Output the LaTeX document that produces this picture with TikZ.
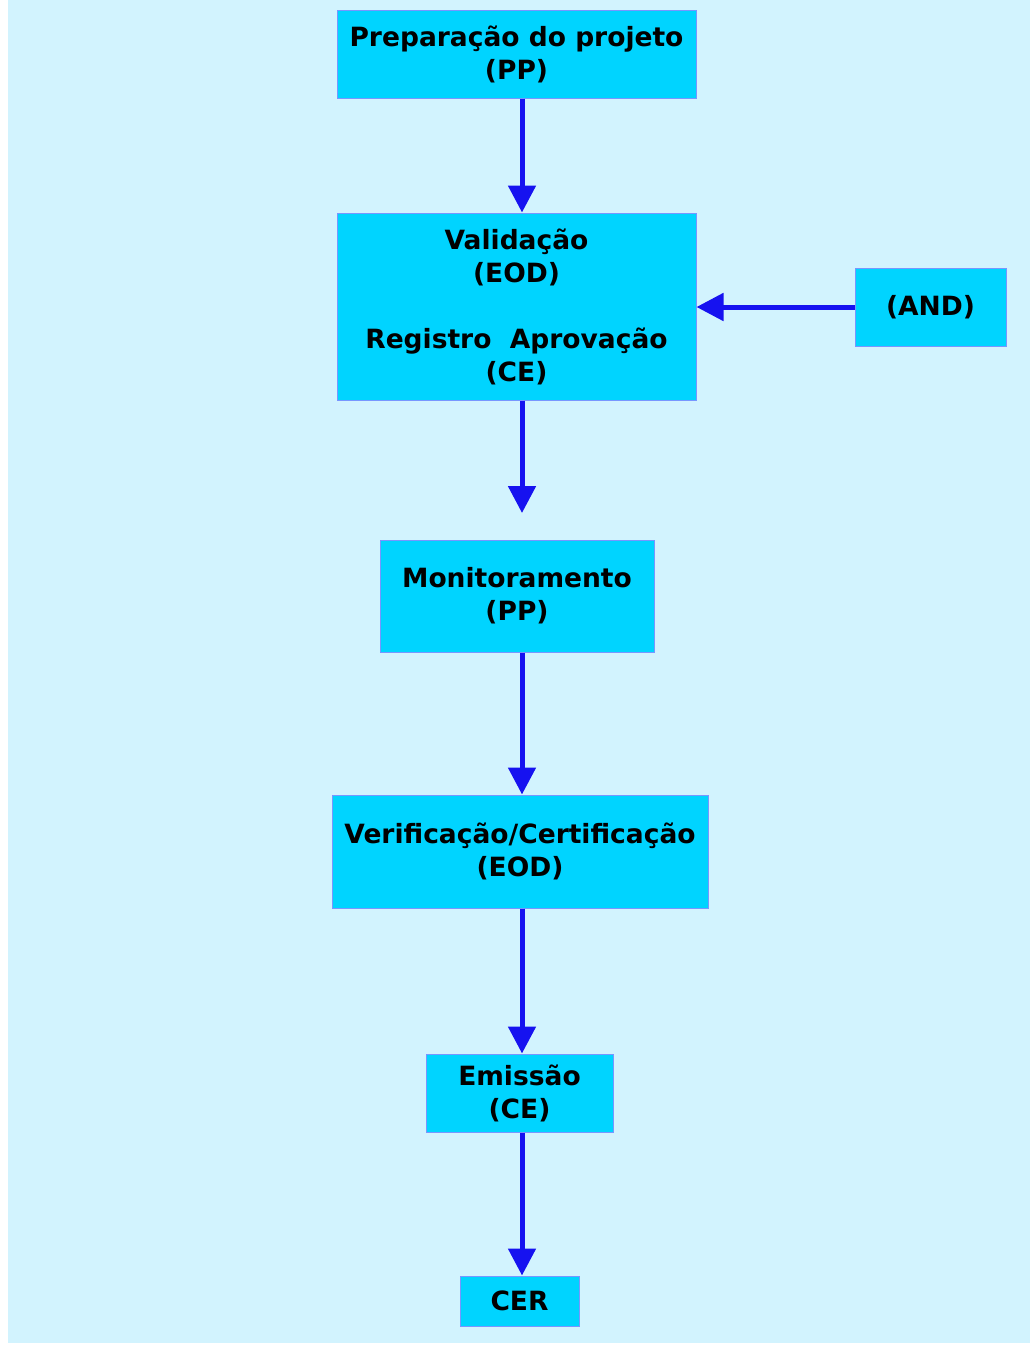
\documentclass[tikz,border=0pt]{standalone}
\usepackage{fontspec}
\setmainfont{DejaVu Sans}
\usetikzlibrary{arrows.meta}
\definecolor{paleblue}{RGB}{210,243,254}
\definecolor{boxcyan}{RGB}{0,212,255}
\definecolor{boxedge}{RGB}{120,150,255}
\definecolor{flowblue}{RGB}{22,18,240}

\begin{document}
\begin{tikzpicture}[x=1pt,y=-1pt]
  \tikzset{stage/.style={draw=boxedge, fill=boxcyan, line width=1pt, inner sep=0pt, align=center, font=\fontsize{26.5}{33}\selectfont\bfseries},
    flow/.style={draw=flowblue, line width=5pt, -{Triangle[length=27pt,width=27pt]}}}
  \useasboundingbox (0,0) rectangle (1030,1345);
  \fill[paleblue] (8,0) rectangle (1030,1343);

  \node[stage, minimum width=359pt, minimum height=88pt] at (516.5,54) (b_1) {Preparação do projeto\\(PP)};
  \node[stage, minimum width=359pt, minimum height=187pt] at (516.5,306.5) (b_2) {Validação\\(EOD)\\[33pt]Registro\ \ Aprovação\\(CE)};
  \node[stage, minimum width=151pt, minimum height=78pt] at (930.5,307) (b_7) {(AND)};
  \node[stage, minimum width=274pt, minimum height=112pt] at (517,596) (b_3) {Monitoramento\\(PP)};
  \node[stage, minimum width=376pt, minimum height=113pt] at (520,851.5) (b_4) {Verificação/Certificação\\(EOD)};
  \node[stage, minimum width=187pt, minimum height=78pt] at (519.5,1093) (b_5) {Emissão\\(CE)};
  \node[stage, minimum width=119pt, minimum height=50pt] at (519.5,1301) (b_6) {CER};

  \coordinate (c_0) at (522,0);
  \coordinate (c_1) at (522,513);
  \draw[flow] (b_1.south -| c_0) -- (b_2.north -| c_0);
  \draw[flow] (b_7.west) -- (b_7.west -| b_2.east);
  \draw[flow] (b_2.south -| c_0) -- (c_1);
  \draw[flow] (b_3.south -| c_0) -- (b_4.north -| c_0);
  \draw[flow] (b_4.south -| c_0) -- (b_5.north -| c_0);
  \draw[flow] (b_5.south -| c_0) -- (b_6.north -| c_0);
\end{tikzpicture}
\end{document}
